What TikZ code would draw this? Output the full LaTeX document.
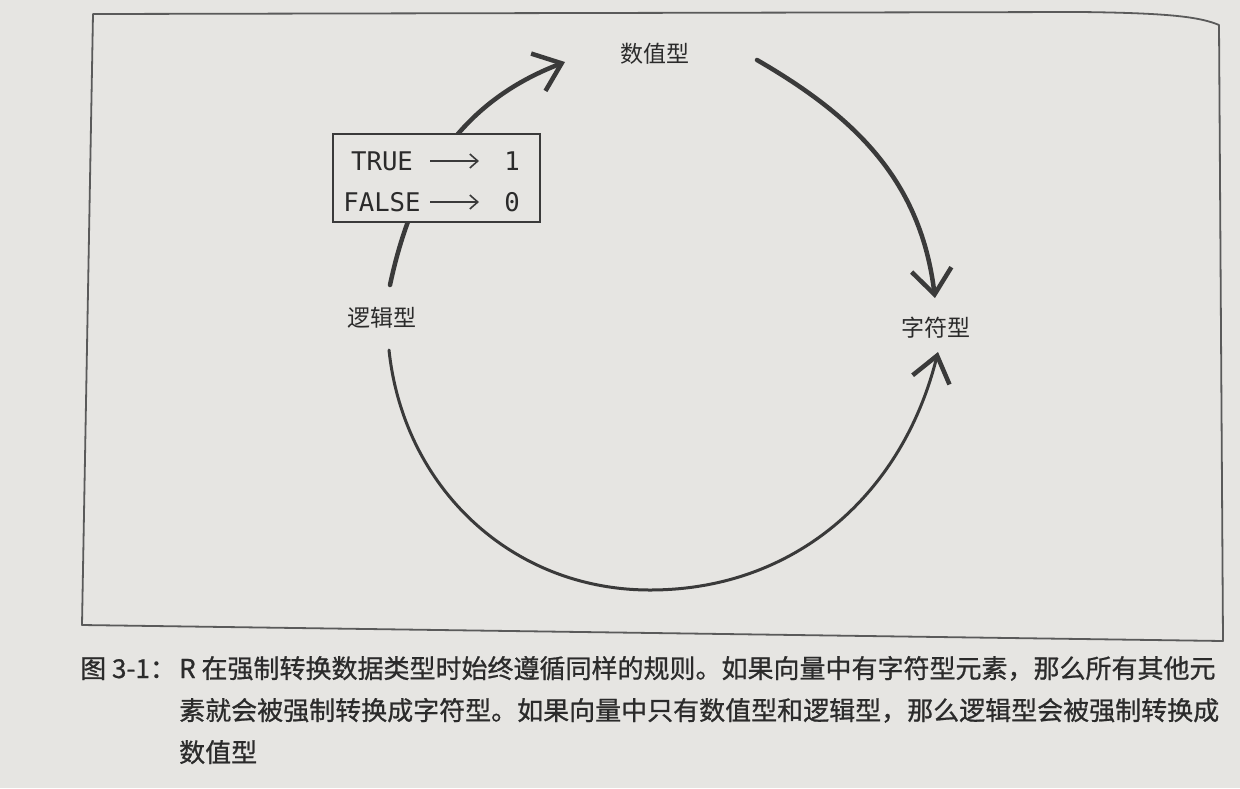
\documentclass[tikz,border=0pt]{standalone}
\usepackage{fontspec}
\setmainfont{DejaVu Sans}
\newfontfamily\cjk{Noto Sans CJK SC}
\newfontfamily\cjkcap[FakeBold=0.8]{Noto Sans CJK SC}
\newfontfamily\monofnt{DejaVu Sans Mono}
\usetikzlibrary{arrows.meta}
\definecolor{paper}{HTML}{E6E5E2}
\definecolor{ink}{HTML}{3A3A3A}
\definecolor{capink}{HTML}{2B2B2B}
\definecolor{framecol}{HTML}{5A5A5A}
\tikzset{
  bigarc/.style={draw=ink, line width=4.5pt, line cap=round,
    -{Straight Barb[length=25pt,width=40pt]}},
  lowarc/.style={draw=ink, line width=3pt, line cap=round,
    -{Straight Barb[length=25pt,width=38pt,line width=4.5pt]}},
  smallarrow/.style={draw=ink, line width=1.6pt,
    -{Straight Barb[length=8pt,width=14pt]}},
  typelabel/.style={font=\cjk\fontsize{23pt}{28pt}\selectfont, text=capink, inner sep=0pt},
  boolword/.style={font=\monofnt\fontsize{25.7pt}{30pt}\selectfont, text=capink, inner sep=0pt},
  tfbox/.style={draw=ink, line width=2pt, fill=paper, minimum width=207pt, minimum height=88pt, inner sep=0pt},
  captext/.style={font=\cjkcap\fontsize{26pt}{32pt}\selectfont, text=capink, inner sep=0pt, anchor=base west},
}
\begin{document}
\begin{tikzpicture}[x=1pt,y=-1pt]
\useasboundingbox (0,0) rectangle (1240,788);
\fill[paper] (0,0) rectangle (1240,788);
% frame
\draw[framecol, line width=1.8pt, line join=round]
  (93,14) -- (1080,12) .. controls (1170,13) and (1200,17) .. (1219,25)
  -- (1223,641) -- (82,625) -- cycle;
% type labels
\node[typelabel] (num) at (655,54) {数值型};
\node[typelabel] (chr) at (936,328) {字符型};
\node[typelabel] (lgc) at (382,318) {逻辑型};
% arc end points
\coordinate (s1) at (390,285);
\coordinate (e1) at (565,62);
\coordinate (s2) at (757,60);
\coordinate (e2) at (935,298);
\coordinate (s3) at (389,350);
\coordinate (b3) at (650,590);
\coordinate (e3) at (938,352);
\draw[bigarc] (s1) to[out=78,in=201] (e1);
\draw[bigarc] (s2) to[out=-30,in=97] (e2);
\draw[lowarc] (s3) to[out=-84,in=180] (b3) to[out=0,in=-104] (e3);
% TRUE/FALSE box
\node[tfbox] (box) at (436.5,178) {};
\node[boolword] (t) at (382,161) {TRUE};
\node[boolword] (f) at (382,202) {FALSE};
\node[boolword] (one) at (512,161) {1};
\node[boolword] (zero) at (512,202) {0};
\coordinate (as) at (430,0);
\coordinate (ae) at (479,0);
\draw[smallarrow] (t.east -| as) -- (one.west -| ae);
\draw[smallarrow] (f.east -| as) -- (zero.west -| ae);
% caption
\node[captext] (c0) at (80,678) {图 3-1：};
\node[captext] (c1) at (179,678) {R 在强制转换数据类型时始终遵循同样的规则。如果向量中有字符型元素，那么所有其他元};
\node[captext] (c2) at (179,720) {素就会被强制转换成字符型。如果向量中只有数值型和逻辑型，那么逻辑型会被强制转换成};
\node[captext] (c3) at (179,762) {数值型};
\end{tikzpicture}
\end{document}
